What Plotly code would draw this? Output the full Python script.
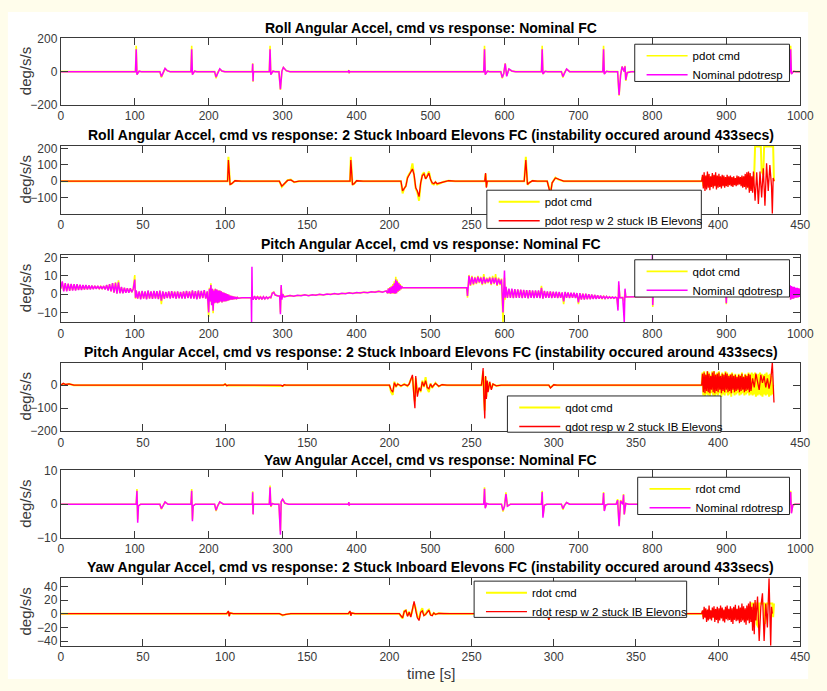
import plotly.graph_objects as go

# ---------------------------------------------------------------------------
# Flight data: angular accelerations (deg/s/s), command vs. response
# Each series is built from sparse (t, value) points plus uniformly sampled runs.
# ---------------------------------------------------------------------------

# --- Roll, nominal flight controller (0-1000 s) ---
roll_nom_t = [0, 101, 102, 103, 104, 106, 109,
              134, 136, 138, 141, 144, 148,
              176, 177, 178, 179, 181, 184,
              208, 210, 212, 215, 218, 222,
              259, 259.5, 260, 260.5,
              282, 283, 284, 285, 287, 290,
              295, 297, 299, 301, 305, 310,
              389, 389.5, 390, 390.5,
              572, 573, 574, 575, 577, 580,
              595, 597, 599, 601, 603, 606, 610, 615,
              650, 651, 652, 653, 655, 658,
              677, 679, 681, 684, 688,
              733, 734, 735, 736, 738, 741,
              753, 755, 757, 759, 761, 762, 763, 764, 766, 771,
              986, 987, 988, 989, 991, 994, 1000]
roll_nom_cmd = [0, 0, 155, -15, -10, 3, 0,
                0, -35, -10, 18, 5, 0,
                0, 155, -15, -10, 3, 0,
                0, -40, -5, 15, 3, 0,
                0, 50, -60, 0,
                0, 155, -15, -10, 3, 0,
                0, -110, 5, 25, 5, 0,
                0, 10, -10, 0,
                0, 155, -15, -10, 3, 0,
                0, -40, -10, 50, -25, 15, 3, 0,
                0, 155, -10, -8, 2, 0,
                0, -35, -5, 15, 0,
                0, 155, -12, -8, 2, 0,
                0, -145, -20, 30, 10, 0, 35, -55, -5, 0,
                0, 155, -12, -8, 2, 0, 0]
roll_nom_resp = [0, 0, 135, -18, -10, 3, 0,
                 0, -30, -12, 20, 6, 0,
                 0, 135, -18, -10, 3, 0,
                 0, -32, -8, 17, 4, 0,
                 0, 48, -58, 0,
                 0, 135, -18, -10, 3, 0,
                 0, -105, 2, 25, 6, 0,
                 0, 9, -9, 0,
                 0, 135, -18, -10, 3, 0,
                 0, -35, -12, 48, -28, 16, 4, 0,
                 0, 135, -14, -8, 2, 0,
                 0, -30, -8, 16, 0,
                 0, 135, -15, -8, 2, 0,
                 0, -140, -22, 30, 12, 0, 32, -50, -6, 0,
                 0, 135, -15, -8, 2, 0, 0]

# --- Roll, 2 stuck inboard elevons (0-434 s) ---
roll_stk_t = [0, 101.5, 102, 103, 104, 106, 110,
              133, 134.5, 136, 138, 140, 142, 145,
              176, 176.5, 177.5, 178.5, 180, 184,
              207, 208, 209, 210, 211, 212, 213, 214, 215, 216, 217, 218, 219,
              220, 221, 222, 223, 224, 225, 226, 227, 228, 229, 231, 233, 236, 240,
              258, 258.5, 259, 259.5,
              282, 283, 284, 285, 287, 290,
              296, 298, 299, 301, 303, 306,
              390]
roll_stk_cmd = [0, 0, 150, -22, -15, 3, 0,
                0, -35, -15, 6, 10, -6, 0,
                0, 150, -22, -15, 3, 0,
                0, -75, -45, -30, 25, 45, 60, 110, 45, -45, -70, -120, -15,
                40, 55, 15, 35, 60, 15, -15, -20, -5, -20, -12, -3, 3, 0,
                0, 45, -35, 0,
                0, 150, -22, -10, 3, 0,
                0, -70, -10, 22, 10, 0,
                0]
roll_stk_resp = [0, 0, 130, -20, -15, 3, 0,
                 0, -30, -15, 5, 8, -5, 0,
                 0, 130, -20, -15, 3, 0,
                 0, -60, -40, -30, 20, 40, 50, 75, 40, -40, -60, -95, -10,
                 35, 45, 15, 30, 50, 10, -10, -15, -5, -15, -10, -2, 3, 0,
                 0, 50, -40, 0,
                 0, 130, -20, -10, 3, 0,
                 0, -80, -10, 20, 10, 0,
                 0]
roll_stk_run_t0, roll_stk_run_dt = 390.5, 0.5
roll_stk_run_cmd = [25, -30, 35, -40, 25, -35, 40, -25, 30, -35,
                    20, -25, 35, -30, 25, -20, 35, -30, 25, -25,
                    30, -25, 20, -30, 25, -20, 25, -25, 15, -20,
                    25, -25, 20, -15, 25, -20, 15, -25, 20, -15,
                    15, -20, 25, -15, 20, -15, 15, -20, 25, -25,
                    20, -25, 30, -35, 40, -25, 45, -50, 35, -45]
roll_stk_run_resp = [40, -45, 55, -60, 35, -50, 60, -40, 45, -55,
                     30, -35, 50, -45, 40, -30, 55, -50, 35, -40,
                     45, -35, 30, -45, 40, -30, 35, -40, 25, -30,
                     40, -35, 30, -25, 35, -30, 25, -35, 30, -25,
                     20, -30, 35, -25, 30, -20, 25, -30, 35, -40,
                     30, -35, 45, -50, 55, -40, 60, -70, 50, -60]
roll_stk_end_cmd_t = [420.5, 421, 422, 422.5, 426, 426.5, 427.5, 428, 433.5, 434]
roll_stk_end_cmd = [20, -40, 50, 213, 213, 60, 40, 213, 213, 0]
roll_stk_end_resp_t = [420.5, 421, 421.5, 422.5, 423.5, 424.5, 425.5, 426.5, 427.5,
                       428.5, 429.5, 430.5, 431.5, 432.5, 433, 433.5, 434]
roll_stk_end_resp = [30, -70, 60, -120, 55, -140, 60, -100, 80,
                     -150, 110, -60, 100, -30, -200, 20, 0]

# --- Pitch, nominal flight controller (0-1000 s) ---
pitch_nom_pt_t = [100, 101, 245, 250, 255, 257.5, 258, 258.5, 259,
                  286, 288, 290, 294, 296, 297, 298, 299, 300, 302,
                  470, 500, 530, 549,
                  598, 599, 600, 601, 602,
                  753.5, 754.5, 762, 763, 764, 780, 799, 800, 800.5, 801,
                  899.5, 900, 900.5, 984]
pitch_nom_pt_cmd = [10.5, -2.5, -2, -2.1, -2, -2, -3, 2, -2,
                    0.8, 1.2, -0.5, -1, -1, -10, 4, -2, 0, -1.3,
                    3.5, 3.5, 3.6, 3.6,
                    -15.5, 6, 9, -3, 4,
                    -7, 5, -4, 2, -1.5, -1.4, -1.3, 3, -7, -1,
                    -0.5, -5.5, 1, 0]
pitch_nom_pt_resp = [8, -2, -2, -2.1, -2, -2, -15.5, 15, -2,
                     0.5, 1, -0.5, -1, -1, -11, 5, -3, 0, -1.5,
                     3.5, 3.5, 3.6, 3.6,
                     -10, 5, 13, -2, 4,
                     -9, 7, -15.5, 3, -1.5, -1.4, -1.3, 21.5, -6, -1,
                     -0.5, -5, 1, 0]
# uniformly sampled stretches: (start time, step)
pitch_nom_runs = [(0, 2), (102, 2), (200, 1), (260, 2), (305, 5), (442, 1),
                  (550, 2), (604, 2), (702, 2), (802, 6), (985, 1)]
pitch_nom_run_cmd = [
    [3, 6.5, 1.8, 5.8, 1.8, 5.6, 2, 5.4, 2.2, 5.3, 2.2, 5.2, 2.4, 5, 2.5, 4.9, 2.6, 4.8, 2.7, 4.7,
     2.8, 4.6, 2.9, 4.5, 3, 4.4, 3, 4.3, 3, 4.4, 2.7, 4.9, 2.2, 5.4, 1.6, 6, 0.9, 6.5, 0.4, 7.5,
     0.6, 3.8, 0.6, 3.4, 0.9, 3.2, 0.9, 3.1, 1.1, 3],
    [1.8, -2.3, 1.4, -2.6, 1.6, -2.3, 1.4, -2.6, 1.8, -2.3, 1.4, -2.4, 1.6, -2.2, 1.5, -2.5, 1.8,
     -5.5, 1.4, -2.3, 1.1, -2, 1.4, -2.2, 1.5, -2, 1.3, -2.3, 1.4, -2.1, 1.1, -2.2, 1.4, -2.3, 1.6,
     -2, 1.4, -2.2, 1.8, -2.3, 1.5, -2.6, 1.8, -2.3, 1.6, -2, 2, -2.3, 1.4],
    [-12.5, 3.5, -4, 6, -5.5, 3, -10.5, 2.5, -5, 3, -4.5, 2.5, -5, 2, -4.5, 2, -4, 1.5, -4.5, 1,
     -4, 0.8, -4, 0.5, -3.8, 0, -3.5, -0.3, -3.2, -0.8, -3, -1, -3, -1.2, -2.8, -1.4, -2.6, -1.6,
     -2.4, -1.8, -2.2],
    [-2.8, -1.2, -2.8, -1.3, -2.6, -1.4, -2.6, -1.5, -2.5, -1.6, -2.3, -1.7, -2],
    [-1.1, -0.8, -1, -0.7, -0.8, -0.5, -0.7, -0.4, -0.5, -0.2, -0.3, 0, -0.1, 0.2, 0.1, 0.4, 0.3,
     0.6, 0.5, 0.8, 0.7, 1, 0.9, 1.2, 1.1, 1.5, 1.2, 1.7],
    [0.6, 3.2, 0.4, 3.8, 0.2, 4.5, 0.4, 5.5, 0.3, 7, 0.2, 9.5, 0.4, 8, 1.2, 6.5, 1.8, 5.5, 2.6, 4.5, 3.5],
    [-2, 10.5, 4.5, 10, 5, 9.5, 5.5, 10, 6, 9.5, 5, 11, 5.5, 9, 6, 9.5, 5, 10, 5.5, 11, 4.5, 9, 5, 8.5],
    [-1.8, 2.8, -1.8, 2.8, -2, 2.6, -1.8, 2.4, -1.8, 2.3, -2, 2.2, -1.8, 2, -2.1, 2, -1.8, 1.8, -2,
     1.8, -1.8, 1.8, -2, 4.5, -2.3, 1.6, -1.8, 1.3, -1.8, 1.3, -2, 1.2, -1.8, 1.1, -2, 1, -1.8, 0.8,
     -5.5, 1, -1.8, 0.8, -2, 0.6, -1.8, 0.6, -1.9, 0.4, -5.5],
    [0.4, -2.8, 0.2, -2.8, 0.1, -2.6, -0.1, -2.6, -0.3, -2.5, -0.5, -2.5, -0.7, -2.4, -0.9, -2.4,
     -1.1, -2.3, -1.3, -2.2, -1.5, -2.1, -1.6, -2.1, -1.7, -2, -1.8, -1.9, -1.8, -1.9],
    [0.5, 1.8, -0.4, 2, -0.7, 1.8, -0.4, 1.6, -0.5, 1.8, -0.3, 1.5, -0.4, 1.6, -0.6, 1.8, -0.5, 1.4,
     -0.4, 1.6, -0.5, 1.8, -0.3, 1.5, -0.7, 2, -0.5, 1.8, -0.4, 1.6, -0.3],
    [0, 4.5, -2.8, 4.2, -2.3, 3.8, -2.3, 3.8, -1.8, 3.3, -1.8, 3.3, -1.6, 3, -1.4, 2.8],
]
pitch_nom_run_resp = [
    [3, 7, 1.5, 6, 1.5, 5.8, 1.8, 5.6, 2, 5.5, 2, 5.4, 2.2, 5.2, 2.3, 5, 2.5, 5, 2.5, 4.8,
     2.6, 4.7, 2.7, 4.6, 2.8, 4.5, 2.8, 4.4, 2.8, 4.5, 2.5, 5, 2, 5.5, 1.5, 6, 0.8, 6.2, 0.3, 6.5,
     0.5, 4, 0.5, 3.5, 0.8, 3.3, 0.8, 3.2, 1, 3],
    [2, -2.5, 1.5, -2.8, 1.8, -2.5, 1.5, -2.8, 2, -2.5, 1.5, -2.6, 1.8, -2.4, 1.6, -2.7, 2, -3.5,
     1.5, -2.5, 1.2, -2.2, 1.5, -2.4, 1.6, -2.2, 1.4, -2.5, 1.5, -2.3, 1.2, -2.4, 1.5, -2.5, 1.8,
     -2.2, 1.5, -2.4, 2, -2.5, 1.6, -2.8, 2, -2.5, 1.8, -2.2, 2.2, -2.5, 1.5],
    [-10, 3, -4, 5, -6, 3, -9, 2, -5, 3, -4.5, 2.5, -5, 2, -4.5, 2, -4, 1.5, -4.5, 1,
     -4, 0.8, -4, 0.5, -3.8, 0, -3.5, -0.3, -3.2, -0.8, -3, -1, -3, -1.2, -2.8, -1.4, -2.6, -1.6,
     -2.4, -1.8, -2.2],
    [-3, -1, -3, -1.2, -2.8, -1.3, -2.8, -1.4, -2.6, -1.5, -2.4, -1.6, -2],
    [-1.2, -0.7, -1.1, -0.6, -0.9, -0.4, -0.8, -0.3, -0.6, -0.1, -0.4, 0.1, -0.2, 0.3, 0, 0.5, 0.2,
     0.7, 0.4, 0.9, 0.6, 1.1, 0.8, 1.3, 1.0, 1.6, 1.1, 1.8],
    [0.5, 3, 0.5, 3.5, 0.3, 4, 0.5, 4.5, 0.5, 6, 0.3, 8, 0.5, 7, 1.5, 6, 2, 5, 2.8, 4.2, 3.5],
    [-1, 10, 5, 9.5, 5.5, 9, 6, 9.5, 6.5, 9, 5.5, 9.5, 6, 8.5, 6.5, 9, 5.5, 9, 6, 9, 5, 8.5, 5.5, 8],
    [-2, 3, -2, 3, -2.2, 2.8, -2, 2.6, -2, 2.5, -2.2, 2.4, -2, 2.2, -2.3, 2.2, -2, 2, -2.2, 2,
     -2, 2, -2.2, 3.5, -2.5, 1.8, -2, 1.5, -2, 1.5, -2.2, 1.4, -2, 1.3, -2.2, 1.2, -2, 1, -4, 1.2,
     -2, 1, -2.2, 0.8, -2, 0.8, -2.1, 0.6, -4.5],
    [0.5, -3, 0.3, -3, 0.2, -2.8, 0, -2.8, -0.2, -2.6, -0.4, -2.6, -0.6, -2.5, -0.8, -2.5, -1, -2.4,
     -1.2, -2.3, -1.4, -2.2, -1.5, -2.2, -1.6, -2.1, -1.7, -2, -1.8, -1.9],
    [0.5, 2, -0.5, 2.2, -0.8, 2, -0.5, 1.8, -0.6, 2, -0.4, 1.6, -0.5, 1.8, -0.7, 2, -0.6, 1.5,
     -0.5, 1.8, -0.6, 2, -0.4, 1.7, -0.8, 2.2, -0.6, 2, -0.5, 1.8, -0.4],
    [0, 5, -3, 4.5, -2.5, 4, -2.5, 4, -2, 3.5, -2, 3.5, -1.8, 3.2, -1.5, 3],
]

# --- Pitch, 2 stuck inboard elevons (0-434 s) ---
pitch_stk_t = [0, 1.5, 3, 5, 8, 99, 100, 101, 102, 134, 135, 136, 137,
               200, 201, 202, 203, 204, 205, 207, 209, 211, 212, 213, 214, 215, 215.5, 216,
               217, 218, 219, 220, 221, 222, 223, 224, 225, 226, 228, 230, 232, 235,
               256, 256.5, 257, 257.5, 258, 258.5, 259, 259.5, 260, 261, 262, 263, 265, 268,
               297, 298, 299, 300, 302, 390]
pitch_stk_cmd = [0, 6, 2, 5, 0, 0, 4, -1, 0, 0, -3, 1, 0,
                 0, -30, -42, 15, -8, 6, -5, 5, -4, 6, 25, 35, -40, -70, 30,
                 -35, -15, -30, 20, -8, 35, -15, -30, 8, -12, 10, -6, 2, 0,
                 0, 25, 60, -45, -110, 35, -50, 18, -25, 12, -15, 4, -2, 0,
                 0, -10, -3, 2, 0, 0]
pitch_stk_resp = [0, 8, 3, 6, 0, 0, 5, -2, 0, 0, -4, 2, 0,
                  0, -20, -30, 10, -5, 5, -3, 3, -2, 5, 30, 45, -60, -100, 40,
                  -50, -10, -25, 15, -5, 20, -10, -15, 5, -8, 8, -5, 2, 0,
                  0, 30, 75, -60, -145, 40, -60, 20, -30, 15, -20, 5, -3, 0,
                  0, -12, -3, 2, 0, 0]
pitch_stk_run_t0, pitch_stk_run_dt = 390.5, 0.5
pitch_stk_run_cmd = [55, -45, 60, -50, 50, -40, 60, -45, 55, -50, 45, -35, 60, -45, 60, -50,
                     50, -40, 55, -45, 60, -35, 45, -50, 55, -40, 50, -45, 60, -35, 55, -45,
                     45, -40, 50, -50, 55, -35, 45, -45, 50, -40, 40, -35, 50, -45, 45, -40,
                     55, -35, 40, -45, 50, -40, 45, -35, 55, -45, 50, -40,
                     55, -45, 50, -40, 55, -50, 45, -45, 50, -40, 55, -45, 50, -50, 45, -40,
                     50, -45, 55, -40, 45, -50, 50, -45, 40, -40]
pitch_stk_run_resp = [50, -30, 55, -35, 45, -25, 60, -30, 50, -35, 40, -20, 55, -30, 60, -35,
                      45, -25, 50, -30, 55, -20, 40, -35, 50, -25, 45, -30, 55, -20, 50, -30,
                      40, -25, 45, -35, 50, -20, 40, -30, 45, -25, 35, -20, 45, -30, 40, -25,
                      50, -20, 35, -30, 45, -25, 40, -20, 50, -30, 45, -25]
pitch_stk_end_cmd_t = [433.5]
pitch_stk_end_cmd = [0]
pitch_stk_end_resp_t = [421, 422, 423, 424, 425, 426, 427, 428, 429, 430, 431, 432, 433, 434]
pitch_stk_end_resp = [30, -10, 50, 20, -20, 45, 10, 40, -10, 30, -15, 20, 98, -75]

# --- Yaw, nominal flight controller (0-1000 s) ---
yaw_nom_t = [0, 102, 103, 104, 105, 108,
             134, 136, 138, 141, 145,
             176, 177, 178, 179, 182,
             208, 210, 212, 215, 220,
             259, 259.5, 260, 260.5,
             282, 283, 284, 286, 289,
             295, 297, 298, 300, 303, 308,
             389, 389.5, 390, 390.5,
             572, 573, 574, 576, 579,
             596, 598, 600, 602, 604, 608,
             650, 651, 652, 654, 657,
             677, 679, 681, 684, 688,
             733, 734, 735, 737, 740,
             751, 753, 755, 757, 760, 761, 762, 764, 768,
             986, 987, 988, 990, 993, 1000]
yaw_nom_cmd = [0, 0, 4.5, -4.5, -0.5, 0,
               0, -1.5, -0.5, 0.6, 0,
               0, 4.5, -4.5, -0.5, 0,
               0, -2, -0.5, 0.6, 0,
               0, 3.8, -3, 0,
               0, 5.5, -0.8, 0.2, 0,
               0, -8, 0.5, 1.5, 0.3, 0,
               0, 0.6, -0.4, 0,
               0, 5, -1, 0.2, 0,
               0, -2.2, -0.5, 3.5, -0.5, 0,
               0, 4, -3.5, -0.3, 0,
               0, -1.6, -0.3, 0.5, 0,
               0, 3.6, -1.8, -0.2, 0,
               0, 1.5, -6, 1.2, 0, 3, -3, 0.2, 0,
               0, 4, -2.5, -0.2, 0, 0]
yaw_nom_resp = [0, 0, 4, -5.5, -0.5, 0,
                0, -1.3, -0.6, 0.7, 0,
                0, 4, -5, -0.5, 0,
                0, -1.8, -0.6, 0.7, 0,
                0, 3.5, -3, 0,
                0, 5, -0.6, 0.2, 0,
                0, -9, 0.8, 1.5, 0.3, 0,
                0, 0.6, -0.4, 0,
                0, 4.6, -1.2, 0.2, 0,
                0, -1.8, -0.6, 3, -0.6, 0,
                0, 3.6, -4, -0.3, 0,
                0, -1.3, -0.4, 0.5, 0,
                0, 3.3, -2, -0.2, 0,
                0, 1.2, -6.5, 1, 0, 2.8, -3, 0.2, 0,
                0, 3.6, -2.7, -0.2, 0, 0]

# --- Yaw, 2 stuck inboard elevons (0-434 s) ---
yaw_stk_t = [0, 101, 102, 102.5, 103, 105,
             133, 135, 137, 140,
             175, 176, 176.5, 177, 179,
             206, 207, 208, 209, 210, 211, 212, 213, 214, 215, 216, 217, 218, 219, 220,
             221, 222, 223, 224, 225, 226, 227, 228, 230, 233, 237,
             257, 258, 259, 281, 282, 283, 296, 297, 298, 300, 390]
yaw_stk_cmd = [0, 0, 3, -3, 1, 0,
               0, -2.5, -1, 0,
               0, 3, -2.5, 1, 0,
               0, -4, -7, 4, 5, -3, 3, -4, 6, 15, 8, -4, -8, 3, 8,
               -2, -1, 4, 6, -1, -2, 1, -1, 0.5, 0, 0,
               0, -2, 0, 0, 1, 0, 0, -8, 1, 0, 0]
yaw_stk_resp = [0, 0, 4, -4, 1, 0,
                0, -2, -1, 0,
                0, 4, -3, 1, 0,
                0, -3, -6, 3, 5, -4, 2, -5, 8, 18, 5, -6, -10, 2, 4,
                -3, -1, 3, 5, -2, -3, 1, -1, 0.5, 0, 0,
                0, -3, 0, 0, 1.5, 0, 0, -9, 1, 0, 0]
yaw_stk_run_t0, yaw_stk_run_dt = 390.5, 0.5
yaw_stk_run_cmd = [3, -5, 6, -4, 5, -7, 4, -6, 7, -5, 3, -6, 5, -4, 6, -7, 4, -5, 6, -8,
                   5, -6, 7, -4, 5, -6, 4, -7, 6, -5, 7, -6, 4, -5, 6, -7, 5, -8, 6, -5,
                   7, -6, 4, -6, 7, -8, 5, -7, 8, -6, 6, -7, 5, -9, 7, -6, 9, -8, 10, -7]
yaw_stk_run_resp = [5, -8, 10, -6, 8, -12, 6, -10, 12, -8, 5, -10, 9, -6, 11, -12, 7, -9, 10, -14,
                    8, -10, 12, -7, 9, -11, 6, -13, 10, -8, 12, -10, 7, -9, 11, -12, 8, -15, 10, -9,
                    13, -11, 7, -10, 12, -14, 9, -12, 15, -10, 11, -13, 8, -16, 12, -10, 15, -14, 18, -12]
yaw_stk_end_cmd_t = [420.5, 423, 423.5, 424.5, 425, 428, 428.5, 429.5, 433, 433.5, 434]
yaw_stk_end_cmd = [15, 15, -15, -20, 15, 15, -15, 15, 15, -5, 15]
yaw_stk_end_resp_t = [420.5, 421, 421.5, 422, 422.5, 423, 424, 425, 426, 427, 428, 429, 430,
                      431, 432, 432.5, 433]
yaw_stk_end_resp = [10, -25, 15, -30, 20, -10, 25, -40, 10, 30, -40, 15, -20, 52, -47, 10, 0]


def run_points(t0, dt, values):
    return [(t0 + i * dt, v) for i, v in enumerate(values)]


def build(*groups):
    """Merge several lists of (t, v) points into one time-ordered series."""
    pts = sorted((p for g in groups for p in g), key=lambda p: p[0])
    return [p[0] for p in pts], [p[1] for p in pts]


series = {}
series['roll_nom'] = (build(list(zip(roll_nom_t, roll_nom_cmd))),
                      build(list(zip(roll_nom_t, roll_nom_resp))))
series['roll_stk'] = (
    build(list(zip(roll_stk_t, roll_stk_cmd)),
          run_points(roll_stk_run_t0, roll_stk_run_dt, roll_stk_run_cmd),
          list(zip(roll_stk_end_cmd_t, roll_stk_end_cmd))),
    build(list(zip(roll_stk_t, roll_stk_resp)),
          run_points(roll_stk_run_t0, roll_stk_run_dt, roll_stk_run_resp),
          list(zip(roll_stk_end_resp_t, roll_stk_end_resp))))
series['pitch_nom'] = (
    build(list(zip(pitch_nom_pt_t, pitch_nom_pt_cmd)),
          *[run_points(t0, dt, v) for (t0, dt), v in zip(pitch_nom_runs, pitch_nom_run_cmd)]),
    build(list(zip(pitch_nom_pt_t, pitch_nom_pt_resp)),
          *[run_points(t0, dt, v) for (t0, dt), v in zip(pitch_nom_runs, pitch_nom_run_resp)]))
series['pitch_stk'] = (
    build(list(zip(pitch_stk_t, pitch_stk_cmd)),
          run_points(pitch_stk_run_t0, pitch_stk_run_dt, pitch_stk_run_cmd),
          list(zip(pitch_stk_end_cmd_t, pitch_stk_end_cmd))),
    build(list(zip(pitch_stk_t, pitch_stk_resp)),
          run_points(pitch_stk_run_t0, pitch_stk_run_dt, pitch_stk_run_resp),
          list(zip(pitch_stk_end_resp_t, pitch_stk_end_resp))))
series['yaw_nom'] = (build(list(zip(yaw_nom_t, yaw_nom_cmd))),
                     build(list(zip(yaw_nom_t, yaw_nom_resp))))
series['yaw_stk'] = (
    build(list(zip(yaw_stk_t, yaw_stk_cmd)),
          run_points(yaw_stk_run_t0, yaw_stk_run_dt, yaw_stk_run_cmd),
          list(zip(yaw_stk_end_cmd_t, yaw_stk_end_cmd))),
    build(list(zip(yaw_stk_t, yaw_stk_resp)),
          run_points(yaw_stk_run_t0, yaw_stk_run_dt, yaw_stk_run_resp),
          list(zip(yaw_stk_end_resp_t, yaw_stk_end_resp))))

# ---------------------------------------------------------------------------
# Layout (pixel geometry of the 827 x 691 figure)
# ---------------------------------------------------------------------------
W, H = 827, 691
X_LEFT, X_RIGHT = 59, 814
FONT = "Liberation Sans, Arial, Helvetica, sans-serif"
AX_COLOR = "#3a3a3a"
FRAME_BG = "#FFFDEB"
CMD_COLOR = "#FFFF00"
NOM_COLOR = "#FF00FF"
STK_COLOR = "#FF0000"

panels = [
    dict(key='roll_nom', top=32, bot=100, yr=[-200, 200], yt=[-200, 0, 200], xr=[0, 1000], dx=100,
         title="Roll Angular Accel, cmd vs response: Nominal FC",
         names=("pdot cmd", "Nominal pdotresp"), color=NOM_COLOR, box=(645, 38, 803, 76)),
    dict(key='roll_stk', top=142, bot=211, yr=[-200, 216], yt=[-100, 0, 100, 200], xr=[0, 450], dx=50,
         title="Roll Angular Accel, cmd vs response: 2 Stuck Inboard Elevons FC (instability occured around 433secs)",
         names=("pdot cmd", "pdot resp w 2 stuck IB Elevons"), color=STK_COLOR, box=(494, 187, 713, 226),
         covered_xlabels=(300, 350)),
    dict(key='pitch_nom', top=253, bot=322, yr=[-15.5, 21.5], yt=[-10, 0, 10, 20], xr=[0, 1000], dx=100,
         title="Pitch Angular Accel, cmd vs response: Nominal FC",
         names=("qdot cmd", "Nominal qdotresp"), color=NOM_COLOR, box=(645, 258, 803, 296)),
    dict(key='pitch_stk', top=363, bot=433, yr=[-200, 98], yt=[-200, -100, 0], xr=[0, 450], dx=50,
         title="Pitch Angular Accel, cmd vs response: 2 Stuck Inboard Elevons FC (instability occured around 433secs)",
         names=("qdot cmd", "qdot resp w 2 stuck IB Elevons"), color=STK_COLOR, box=(515, 397, 733, 434)),
    dict(key='yaw_nom', top=473, bot=542, yr=[-10, 10], yt=[-10, 0, 10], xr=[0, 1000], dx=100,
         title="Yaw Angular Accel, cmd vs response: Nominal FC",
         names=("rdot cmd", "Nominal rdotresp"), color=NOM_COLOR, box=(648, 480, 803, 518)),
    dict(key='yaw_stk', top=583, bot=652, yr=[-47, 52], yt=[-40, -20, 0, 20, 40], xr=[0, 450], dx=50,
         title="Yaw Angular Accel, cmd vs response: 2 Stuck Inboard Elevons FC (instability occured around 433secs)",
         names=("rdot cmd", "rdot resp w 2 stuck IB Elevons"), color=STK_COLOR, box=(481, 586, 698, 623)),
]


def px(x):
    return x / W


def py(y):
    return 1 - y / H


fig = go.Figure()
layout = dict(
    width=W, height=H, margin=dict(l=0, r=0, t=0, b=0),
    paper_bgcolor=FRAME_BG, plot_bgcolor="white",
    font=dict(family=FONT, color=AX_COLOR, size=12),
    showlegend=True, shapes=[], annotations=[],
)
# white figure area inside the cream frame
layout['shapes'].append(dict(type='rect', xref='paper', yref='paper', layer='below',
                             x0=px(5), x1=px(822), y0=py(686), y1=py(5),
                             fillcolor='white', line=dict(width=0)))

for i, p in enumerate(panels, start=1):
    sfx = '' if i == 1 else str(i)
    xa, ya = 'x' + sfx, 'y' + sfx
    leg = 'legend' + sfx
    (tc, vc), (tr, vr) = series[p['key']]
    stuck = p['color'] == STK_COLOR
    fig.add_trace(go.Scatter(x=tc, y=vc, mode='lines', name=p['names'][0],
                             line=dict(color=CMD_COLOR, width=2.0 if stuck else 1.6),
                             xaxis=xa, yaxis=ya, legend=leg, hoverinfo='skip'))
    fig.add_trace(go.Scatter(x=tr, y=vr, mode='lines', name=p['names'][1],
                             line=dict(color=p['color'], width=1.3 if stuck else 1.5),
                             xaxis=xa, yaxis=ya, legend=leg, hoverinfo='skip'))
    common = dict(showgrid=False, zeroline=False, showline=True, linecolor=AX_COLOR, linewidth=1,
                  mirror='ticks', ticks='inside', ticklen=7, tickcolor=AX_COLOR, tickwidth=1,
                  tickfont=dict(size=12, color=AX_COLOR, family=FONT),
                  ticklabeloverflow='allow')
    # tick labels that sit under a legend frame are left blank
    xt = list(range(p['xr'][0], p['xr'][1] + 1, p['dx']))
    covered = p.get('covered_xlabels', ())
    layout['xaxis' + sfx] = dict(common, domain=[px(X_LEFT), px(X_RIGHT)], range=p['xr'],
                                 tickmode='array', tickvals=xt,
                                 ticktext=['' if v in covered else str(v) for v in xt], anchor=ya)
    layout['yaxis' + sfx] = dict(common, domain=[py(p['bot']), py(p['top'])], range=p['yr'],
                                 tickmode='array', tickvals=p['yt'], anchor=xa)
    # subplot title
    layout['annotations'].append(dict(text="<b>%s</b>" % p['title'], x=px((X_LEFT + X_RIGHT) / 2),
                                      y=py(p['top'] - 11), xref='paper', yref='paper',
                                      showarrow=False, xanchor='center', yanchor='middle',
                                      font=dict(size=14, color='black', family=FONT)))
    # y label
    layout['annotations'].append(dict(text="deg/s/s", x=px(23), y=py((p['top'] + p['bot']) / 2),
                                      xref='paper', yref='paper', showarrow=False, textangle=-90,
                                      xanchor='center', yanchor='middle',
                                      font=dict(size=15, color=AX_COLOR, family=FONT)))
    # legend frame, drawn over the traces
    bx0, by0, bx1, by1 = p['box']
    layout['shapes'].append(dict(type='rect', xref='paper', yref='paper', layer='above',
                                 x0=px(bx0), x1=px(bx1), y0=py(by1), y1=py(by0),
                                 fillcolor='white', line=dict(color='#262626', width=1)))
    layout[leg] = dict(x=px(bx0 + 7), y=py(by0 - 3), xanchor='left', yanchor='top',
                       bgcolor='rgba(0,0,0,0)', borderwidth=0, itemwidth=41,
                       tracegroupgap=0, font=dict(size=11.5, color='black', family=FONT))

layout['annotations'].append(dict(text="time [s]", x=px((X_LEFT + X_RIGHT) / 2), y=py(680),
                                  xref='paper', yref='paper', showarrow=False,
                                  xanchor='center', yanchor='middle',
                                  font=dict(size=15, color=AX_COLOR, family=FONT)))

fig.update_layout(**layout)
fig.write_html("out.html")
